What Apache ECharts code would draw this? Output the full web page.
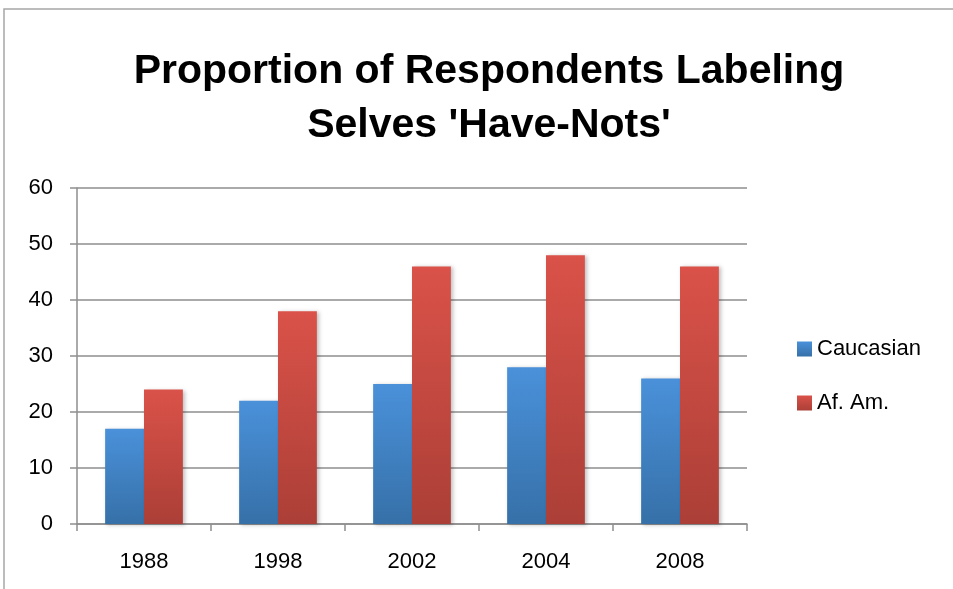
<!DOCTYPE html>
<html><head><meta charset="utf-8">
<script src="https://cdn.jsdelivr.net/npm/echarts@6/dist/echarts.min.js"></script>
<style>html,body{margin:0;padding:0;background:#fff}#c{width:953px;height:589px}</style>
</head><body><div id="c"></div>
<script>
const titleText = "Proportion of Respondents Labeling\nSelves 'Have-Nots'";
const categories = ["1988", "1998", "2002", "2004", "2008"];
const seriesNames = ["Caucasian", "Af. Am."];
const caucasian = [17, 22, 25, 28, 26];
const afAm = [24, 38, 46, 48, 46];
const yTicks = [0, 10, 20, 30, 40, 50, 60];

const font = "'Liberation Sans', Arial, sans-serif";
const gridColor = '#8e8e8e';
function grad(top, bottom) {
  return new echarts.graphic.LinearGradient(0, 0, 0, 1, [
    {offset: 0, color: top}, {offset: 1, color: bottom}
  ]);
}
const blue = grad('#4a91da', '#3670a8');
const red = grad('#da5249', '#ab3f37');

const chart = echarts.init(document.getElementById('c'), null, {renderer: 'canvas'});
chart.setOption({
  animation: false,
  backgroundColor: '#ffffff',
  title: {
    text: titleText,
    left: 484, top: 40, textAlign: 'center',
    textStyle: {fontFamily: font, fontWeight: 'bold', fontSize: 41, lineHeight: 54, color: '#000'}
  },
  graphic: [{
    type: 'polyline',
    shape: {points: [[4, 589], [4, 9], [953, 9]]},
    style: {stroke: '#a6a6a6', lineWidth: 1.5, fill: null}
  }],
  legend: {
    orient: 'vertical', left: 797, top: 338, padding: 0,
    itemWidth: 15, itemHeight: 15, itemGap: 32,
    icon: 'rect',
    textStyle: {fontFamily: font, fontSize: 22, lineHeight: 22, color: '#000'},
    data: seriesNames
  },
  grid: {left: 77, right: 206, top: 188, bottom: 65, containLabel: false},
  xAxis: {
    type: 'category', data: categories, boundaryGap: true,
    axisLine: {lineStyle: {color: gridColor, width: 1.5}},
    axisTick: {show: true, length: 7, lineStyle: {color: gridColor, width: 1.5}},
    axisLabel: {fontFamily: font, fontSize: 22, color: '#000', margin: 27}
  },
  yAxis: {
    type: 'value', min: yTicks[0], max: yTicks[yTicks.length - 1], interval: 10,
    axisLine: {show: true, lineStyle: {color: gridColor, width: 1.5}},
    axisTick: {show: true, length: 7, lineStyle: {color: gridColor, width: 1.5}},
    splitLine: {lineStyle: {color: gridColor, width: 1.5}},
    axisLabel: {fontFamily: font, fontSize: 22, color: '#000', margin: 24}
  },
  series: [
    {name: seriesNames[0], type: 'bar', data: caucasian, barGap: '0%', barCategoryGap: '42%',
     itemStyle: {color: blue, shadowColor: 'rgba(0,0,0,0.25)', shadowBlur: 4, shadowOffsetX: 2, shadowOffsetY: 1}},
    {name: seriesNames[1], type: 'bar', data: afAm, barGap: '0%', barCategoryGap: '42%',
     itemStyle: {color: red, shadowColor: 'rgba(0,0,0,0.25)', shadowBlur: 4, shadowOffsetX: 2, shadowOffsetY: 1}}
  ]
});
</script></body></html>
